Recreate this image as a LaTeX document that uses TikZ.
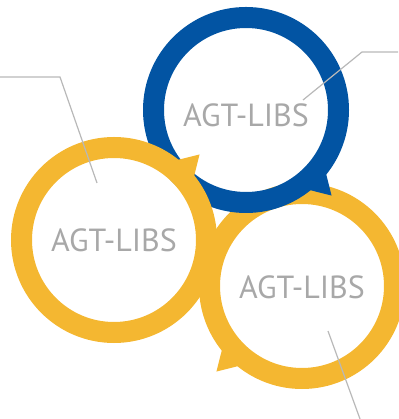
\documentclass[tikz,border=0pt]{standalone}
\usepackage{fontspec}
\setmainfont{PT Sans}
\usetikzlibrary{calc}
\definecolor{ringblue}{HTML}{0254A3}
\definecolor{ringgold}{HTML}{F4B731}
\definecolor{labelgray}{HTML}{A8A8A8}
\definecolor{leadgray}{HTML}{B8B8B8}
% small pointed tail on a ring: centre node, angle, colour
\newcommand\ringtail[3]{\fill[#3] ($(#1.center)+(#2-7.5:100)$) -- ($(#1.center)+(#2:121)$) -- ($(#1.center)+(#2+7.5:100)$) -- cycle;}

\begin{document}
\begin{tikzpicture}[x=1pt,y=1pt,
  ring/.style={circle,draw=#1,line width=21pt,minimum size=185pt,inner sep=0pt},
  tag/.style={text=labelgray,font=\fontsize{32}{32}\selectfont},
  lead/.style={draw=leadgray,line width=1.2pt}]
\useasboundingbox (0,0) rectangle (398,419);

% rings, back to front
\node[ring=ringgold] (right) at (302,133) {};
\ringtail{right}{225}{ringgold}
\node[ring=ringblue] (top) at (246,309) {};
\ringtail{top}{-45}{ringblue}
\node[ring=ringgold] (left) at (114,179) {};
\ringtail{left}{45}{ringgold}

\node[tag] (toptxt) at ([yshift=-5pt]top.center) {AGT-LIBS};
\node[tag] (lefttxt) at (left.center) {AGT-LIBS};
\node[tag] (righttxt) at ([yshift=-1pt]right.center) {AGT-LIBS};

% leader lines
\coordinate (la) at (0,342);
\coordinate (lb) at (60,342);
\coordinate (lc) at (97,236);
\coordinate (ta) at (398,367);
\coordinate (tb) at (362,367);
\coordinate (tc) at (303,319);
\coordinate (ra) at (328,88);
\coordinate (rb) at (360,0);
\draw[lead] (la) -- (lb) -- (lc);
\draw[lead] (ta) -- (tb) -- (tc);
\draw[lead] (ra) -- (rb);
\end{tikzpicture}
\end{document}
